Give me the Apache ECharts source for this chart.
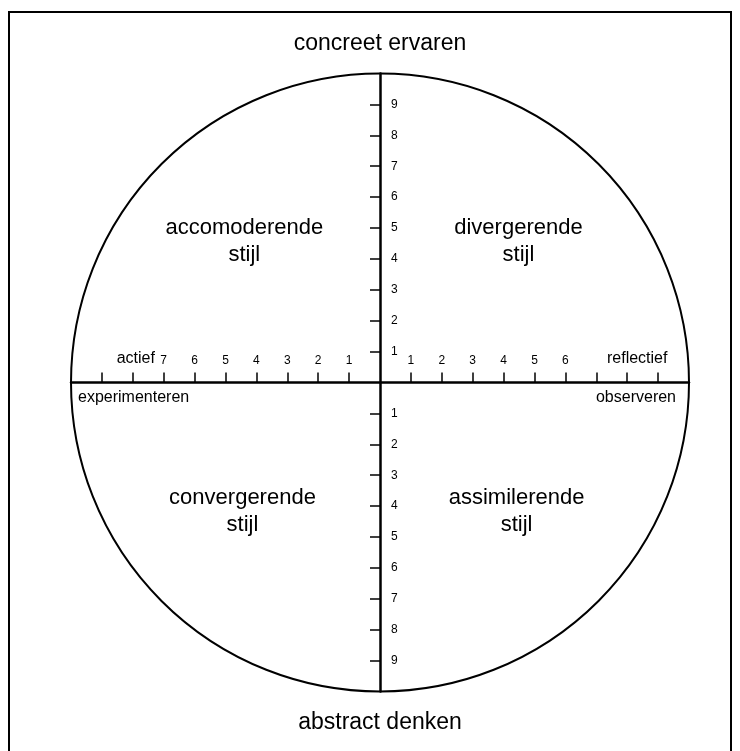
<!DOCTYPE html>
<html>
<head>
<meta charset="utf-8">
<script src="https://cdn.jsdelivr.net/npm/echarts@6/dist/echarts.min.js"></script>
<style>
	html, body { margin: 0; padding: 0; background: #fff; }
	#kolb { width: 740px; height: 751px; }
</style>
</head>
<body>
<div id="kolb"></div>
<script>
// schaal van de leerstijlen (Kolb)
var xTickValues = [-9, -8, -7, -6, -5, -4, -3, -2, -1, 1, 2, 3, 4, 5, 6, 7, 8, 9];
var xLabelValues = [-8, -7, -6, -5, -4, -3, -2, -1, 1, 2, 3, 4, 5, 6, 8];
var yTickValues = [-9, -8, -7, -6, -5, -4, -3, -2, -1, 1, 2, 3, 4, 5, 6, 7, 8, 9];
var xEndWords = ['actief', 'reflectief'];
var poleNames = ['concreet ervaren', 'abstract denken', 'experimenteren', 'observeren'];
var circleRadius = 10;

var quadrantNames = ['accomoderende\nstijl', 'divergerende\nstijl', 'convergerende\nstijl', 'assimilerende\nstijl'];
var quadrantX = [-4.39, 4.48, -4.45, 4.42];
var quadrantY = [4.55, 4.55, -4.17, -4.17];

var font = '"Liberation Sans", Arial, Helvetica, sans-serif';
var half = 309; // halve grid, om de assen door het midden te leggen

function tekst(t, x, y, size, align) {
	return {
		type: 'text',
		silent: true,
		style: {
			text: t, x: x, y: y,
			fill: '#000',
			font: size + 'px ' + font,
			align: align,
			verticalAlign: 'middle'
		}
	};
}

var chart = echarts.init(document.getElementById('kolb'));
var option = {
	animation: false,
	backgroundColor: '#fff',
	graphic: [
		{
			type: 'rect',
			shape: { x: 9, y: 12, width: 722, height: 760 },
			style: { fill: null, stroke: '#000', lineWidth: 2 },
			silent: true
		},
		tekst(poleNames[0], 380, 44, 23, 'center'),
		tekst(poleNames[1], 380, 723, 23, 'center'),
		tekst(poleNames[2], 78, 397.5, 16, 'left'),
		tekst(poleNames[3], 676, 397.5, 16, 'right')
	],
	grid: { left: 71, top: 73.5, width: 618, height: 618 },
	xAxis: {
		type: 'value',
		min: -10,
		max: 10,
		interval: 1,
		offset: -half,
		splitLine: { show: false },
		axisLine: { onZero: false, lineStyle: { color: '#000', width: 2.5 } },
		axisTick: { inside: true, length: 10, customValues: xTickValues, lineStyle: { color: '#000', width: 1.5 } },
		axisLabel: {
			inside: true,
			margin: 16,
			customValues: xLabelValues,
			color: '#000',
			fontFamily: font,
			fontSize: 12,
			formatter: function (v) {
				if (v === -8) return '{w|' + xEndWords[0] + '}';
				if (v === 8) return '{r|' + xEndWords[1] + '}';
				return Math.abs(v);
			},
			rich: {
				w: { fontFamily: font, fontSize: 16, color: '#000', padding: [0, 0, 0, 6] },
				r: { fontFamily: font, fontSize: 16, color: '#000', padding: [0, 0, 0, 20] }
			}
		}
	},
	yAxis: {
		type: 'value',
		position: 'right',
		min: -10,
		max: 10,
		interval: 1,
		offset: -half,
		splitLine: { show: false },
		axisLine: { onZero: false, lineStyle: { color: '#000', width: 2.5 } },
		axisTick: { inside: true, length: 10, customValues: yTickValues, lineStyle: { color: '#000', width: 1.5 } },
		axisLabel: {
			margin: 11,
			customValues: yTickValues,
			color: '#000',
			fontFamily: font,
			fontSize: 12,
			formatter: function (v) {
				return Math.abs(v);
			}
		}
	},
	series: [
		{
			type: 'custom',
			name: 'cirkel',
			clip: false,
			data: [[0, 0, circleRadius]],
			renderItem: function (params, api) {
				var c = api.coord([api.value(0), api.value(1)]);
				var r = api.size([api.value(2), 0])[0];
				return {
					type: 'circle',
					shape: { cx: c[0], cy: c[1], r: r },
					style: { fill: null, stroke: '#000', lineWidth: 2 }
				};
			}
		},
		{
			type: 'scatter',
			name: 'stijlen',
			symbolSize: 0,
			itemStyle: { opacity: 1 },
			data: quadrantNames.map(function (n, i) {
				return { name: n, value: [quadrantX[i], quadrantY[i]] };
			}),
			label: {
				show: true,
				position: 'inside',
				formatter: '{b}',
				color: '#000',
				opacity: 1,
				fontFamily: font,
				fontSize: 22,
				lineHeight: 27,
				align: 'center'
			}
		}
	]
};
chart.setOption(option);
window.addEventListener('resize', function () {
	chart.resize();
});
</script>
</body>
</html>
